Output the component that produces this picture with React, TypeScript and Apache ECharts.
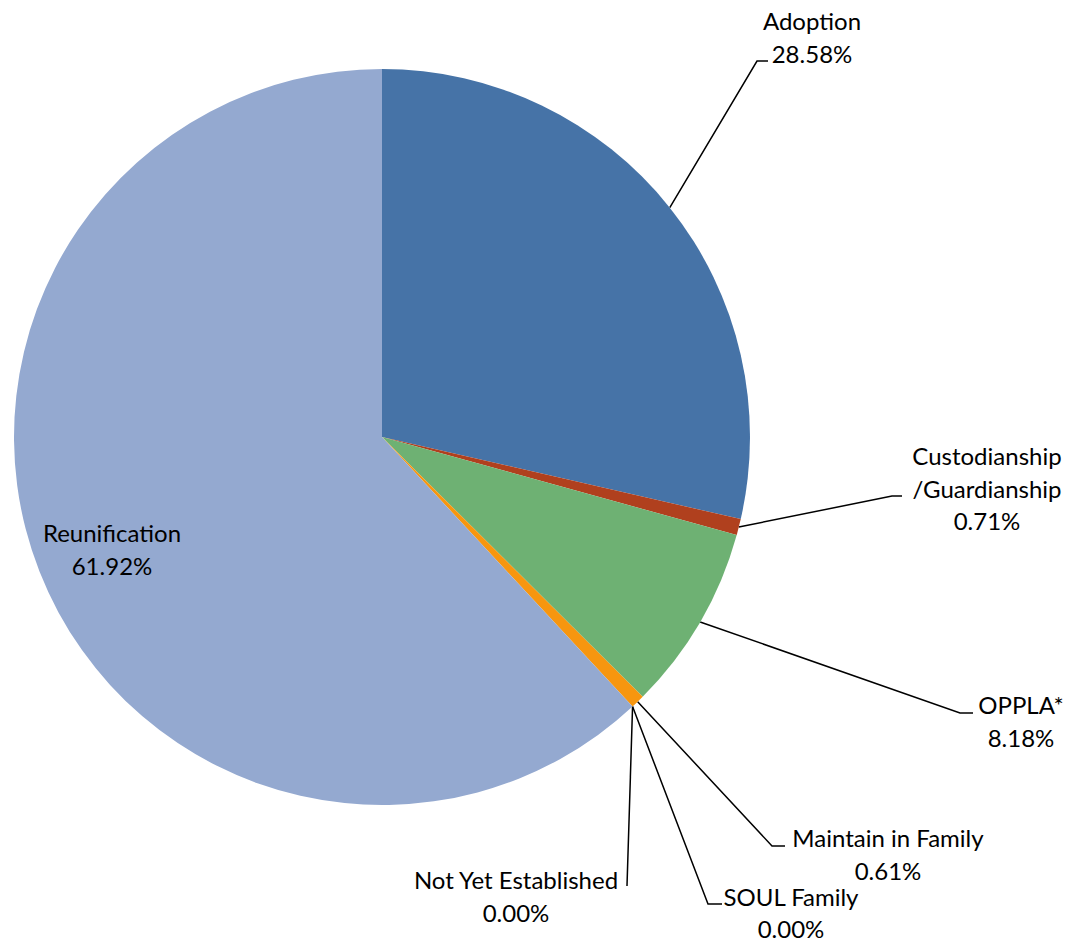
import React, { useEffect, useRef } from "react";
import * as echarts from "echarts";

const categories = [
  "Adoption",
  "Custodianship\n/Guardianship",
  "OPPLA*",
  "Maintain in Family",
  "SOUL Family",
  "Not Yet Established",
  "Reunification",
];
const values = [28.58, 0.71, 8.18, 0.61, 0.0, 0.0, 61.92];
const colors = ["#4673A7", "#B0401E", "#6EB173", "#F7960F", "#F7960F", "#F7960F", "#94A9D0"];

// label placements (text block centre) and leader bends — positions only
const labelPos: [number, number][] = [
  [812, 37],
  [987, 488],
  [1021, 721],
  [888, 854],
  [791, 906],
  [516, 896],
  [112, 549],
];
const leaderBends: ([number, number][] | null)[] = [
  [[757, 61], [768, 61]],
  [[892, 496], [902, 496]],
  [[960, 713], [973, 713]],
  [[772, 846], [785, 846]],
  [[708, 904], [722, 904]],
  [[627, 886], [627, 886]],
  null,
];

const CX = 382;
const CY = 437;
const R = 368;
const FONT = "Lato";
const FS = 24;

export default function App() {
  const ref = useRef<HTMLDivElement>(null);
  useEffect(() => {
    if (!ref.current) return;
    const chart = echarts.init(ref.current, undefined, { renderer: "svg" });
    const total = values.reduce((a, b) => a + b, 0);
    const midAngles: number[] = [];
    let cum = 0;
    values.forEach((v) => {
      midAngles.push(((cum + v / 2) / total) * Math.PI * 2);
      cum += v;
    });
    const txt = { fontFamily: FONT, fontSize: FS, color: "#000000", align: "center" as const };
    const data = categories.map((name, i) => {
      let label: any = undefined;
      if (i === 6) label = { position: "inside" };
      if (i === 4) {
        // bottom-edge label: tighter box under the last line, same line spacing
        label = {
          formatter: `{a|${name}}\n{b|${values[i].toFixed(2)}%}`,
          rich: {
            a: { ...txt, lineHeight: 45 },
            b: { ...txt, lineHeight: 20 },
          },
        };
      }
      return {
        name,
        value: values[i],
        itemStyle: { color: colors[i] },
        label,
        labelLine: { show: i !== 6 },
      };
    });
    chart.setOption({
      animation: false,
      backgroundColor: "#ffffff",
      series: [
        {
          type: "pie",
          center: [CX, CY],
          radius: R,
          startAngle: 90,
          clockwise: true,
          avoidLabelOverlap: false,
          silent: true,
          stillShowZeroSum: true,
          itemStyle: { borderWidth: 0 },
          emphasis: { disabled: true },
          label: {
            show: true,
            position: "outside",
            ...txt,
            lineHeight: 32.5,
            formatter: (p: any) => `${p.name}\n${Number(p.value).toFixed(2)}%`,
          },
          labelLine: {
            show: true,
            lineStyle: { color: "#000000", width: 1.5 },
          },
          labelLayout: (params: any) => {
            const i = params.dataIndex;
            const [x, y] = labelPos[i];
            const out: any = { x, y, align: "center", verticalAlign: "middle" };
            const bends = leaderBends[i];
            if (bends) {
              const a = midAngles[i];
              const start =
                params.labelLinePoints && params.labelLinePoints[0]
                  ? params.labelLinePoints[0]
                  : [CX + R * Math.sin(a), CY - R * Math.cos(a)];
              out.labelLinePoints = [start, bends[0], bends[1]];
            }
            return out;
          },
          data,
        },
      ],
    });
    return () => chart.dispose();
  }, []);
  return (
    <div
      ref={ref}
      style={{ position: "absolute", left: 0, top: 0, width: 1084, height: 944 }}
    />
  );
}
